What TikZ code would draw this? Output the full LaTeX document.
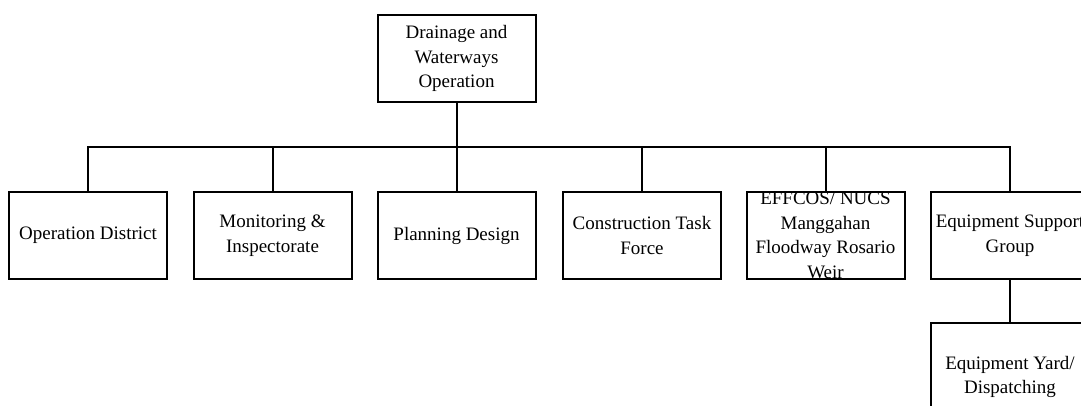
\documentclass[tikz,border=0pt]{standalone}
\usepackage{fontspec}
\setmainfont{Liberation Serif}
\begin{document}
\begin{tikzpicture}[x=1pt,y=-1pt,
  box/.style={draw=black, line width=2pt, minimum width=158pt, minimum height=87pt, inner sep=0pt},
  lbl/.style={align=center, inner sep=0pt, font=\fontsize{19}{24.5}\selectfont, text=black},
  conn/.style={draw=black, line width=2pt}]
\useasboundingbox (0,0) rectangle (1081,405);
\clip (0,0) rectangle (1081,405);
\node[box,lbl] (top) at (456.5,58.5) {Drainage and\\Waterways\\Operation};
\node[box,lbl] (b1) at (88,235.5) {Operation District};
\node[box,lbl] (b2) at (272.5,235.5) {Monitoring \&\\Inspectorate};
\node[box,lbl] (b3) at (456.5,235.5) {Planning Design};
\node[box,lbl] (b4) at (642,235.5) {Construction Task\\Force};
\node[box] (b5) at (825.5,235.5) {};
\begin{scope}
  \clip ([shift={(1pt,-1pt)}]b5.north west) rectangle ([shift={(-1pt,1pt)}]b5.south east);
  \node[lbl] (t5) at (b5.center) {EFFCOS/ NUCS\\Manggahan\\Floodway Rosario\\Weir};
\end{scope}
\node[box,lbl] (b6) at (1010,235.5) {Equipment Support\\Group};
\node[box,lbl,minimum height=108pt] (b7) at (1010,377) {Equipment Yard/\\Dispatching};
\coordinate (busL) at (88,147);
\coordinate (busR) at (1010,147);
\draw[conn] (top.south) -- (top.south |- busL);
\draw[conn] (b1.north) |- (busR) -- (b6.north);
\draw[conn] (b2.north) -- (b2.north |- busL);
\draw[conn] (b3.north) -- (b3.north |- busL);
\draw[conn] (b4.north) -- (b4.north |- busL);
\draw[conn] (b5.north) -- (b5.north |- busL);
\draw[conn] (b6.south) -- (b7.north);
\end{tikzpicture}
\end{document}
